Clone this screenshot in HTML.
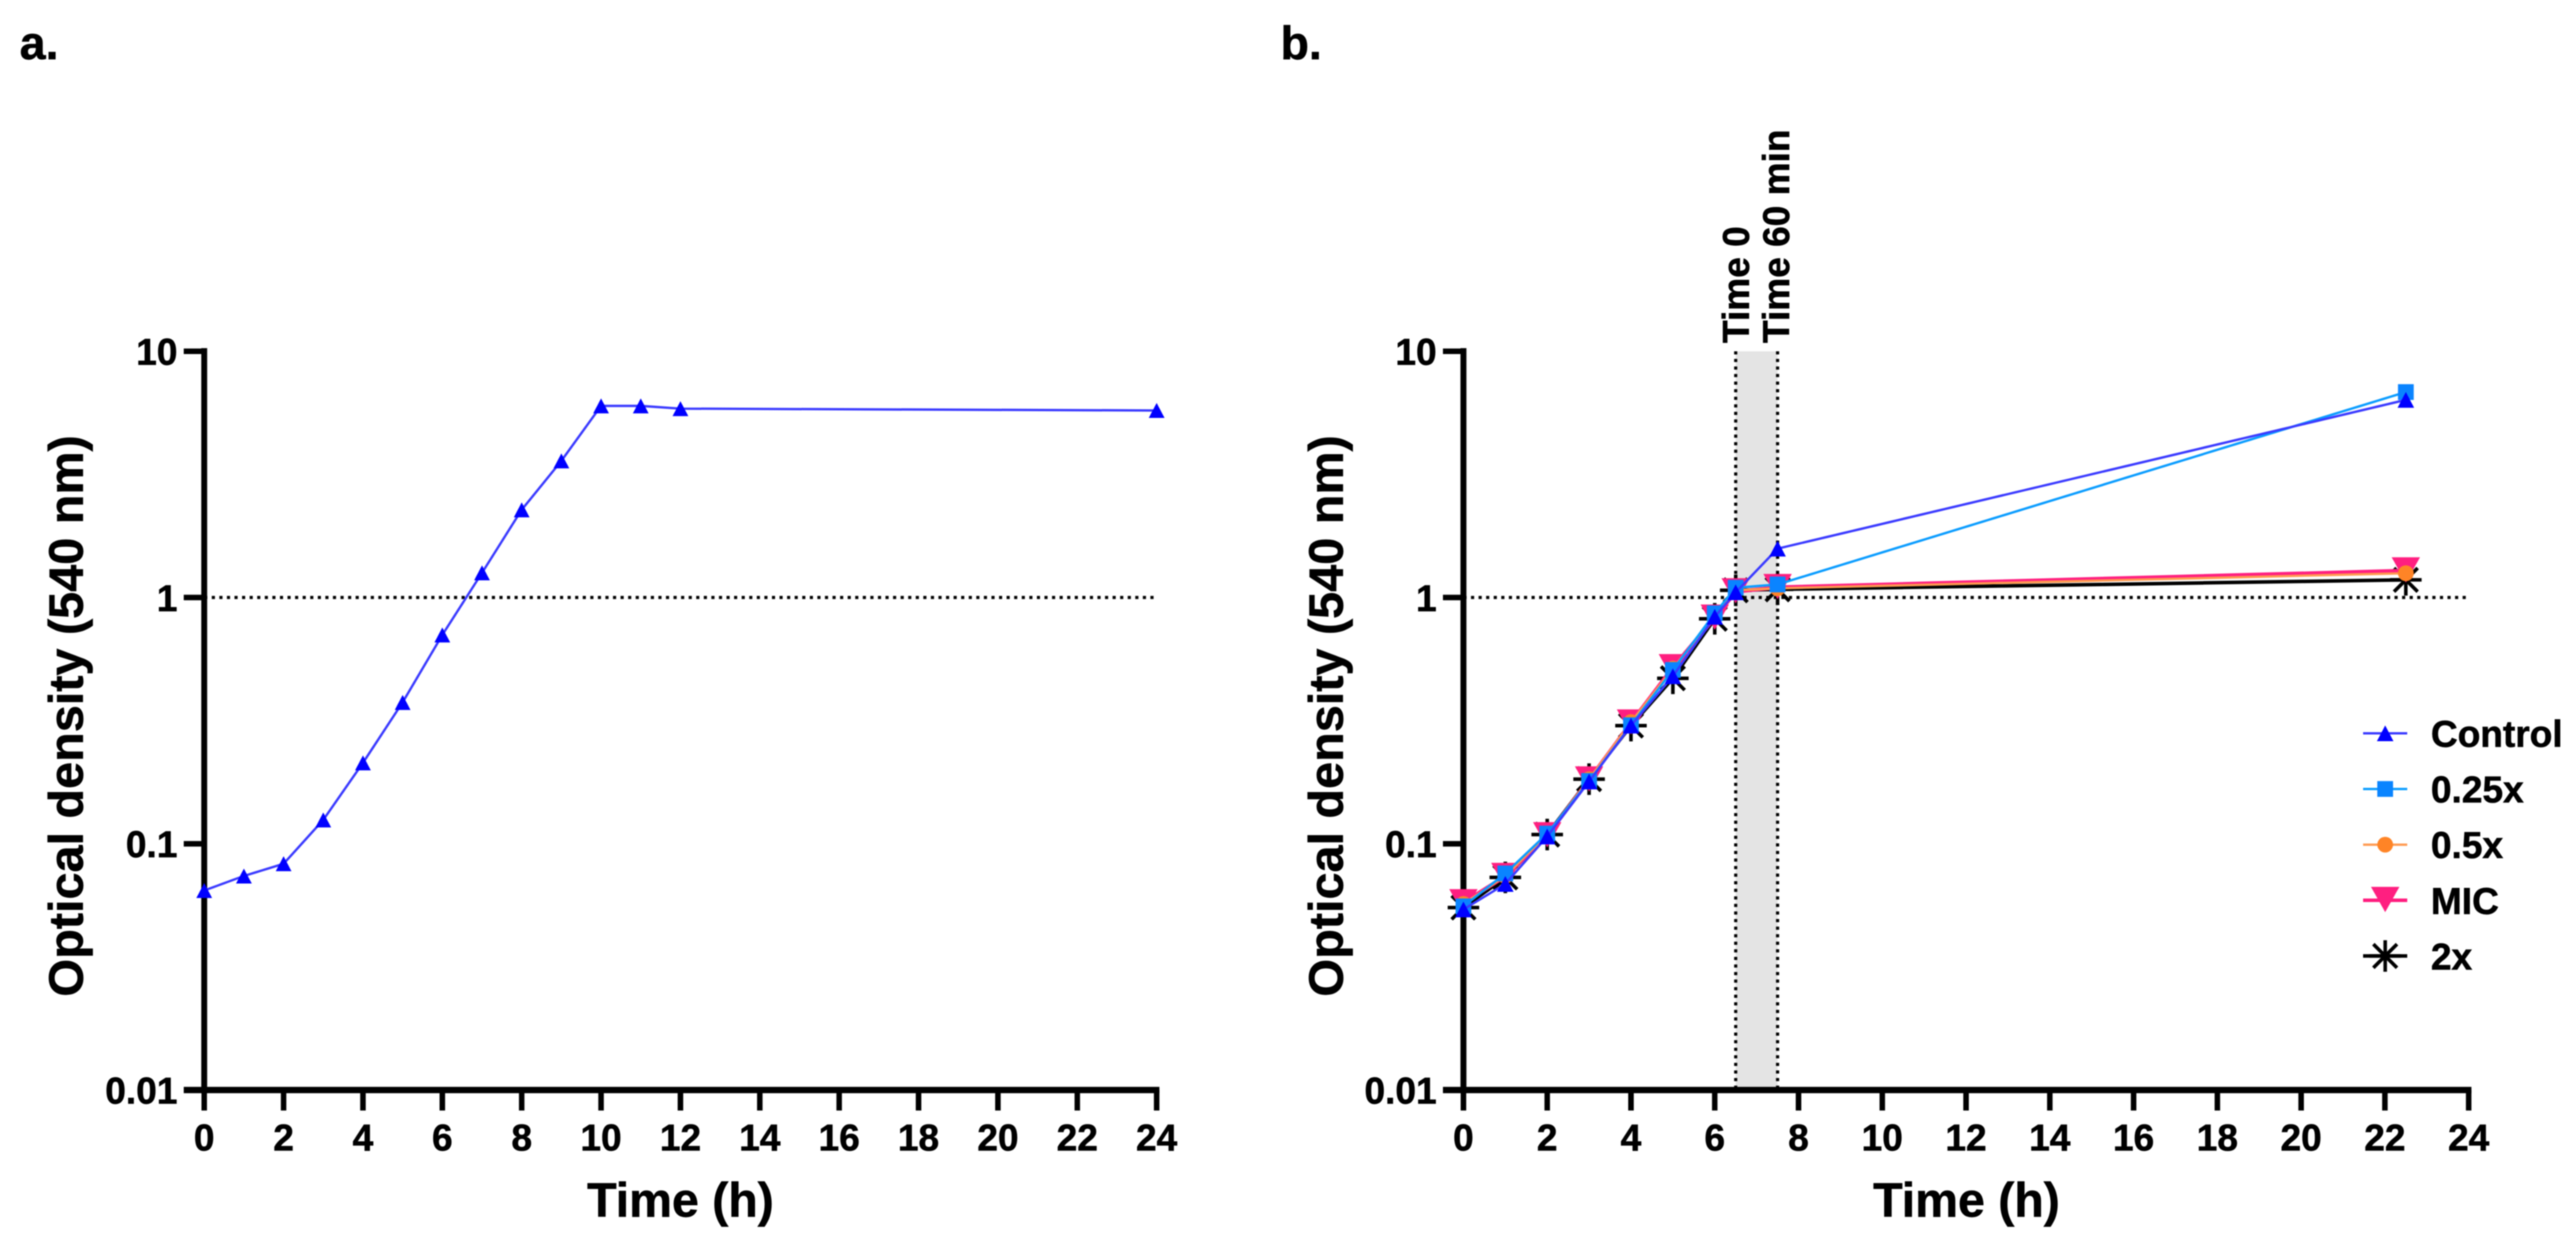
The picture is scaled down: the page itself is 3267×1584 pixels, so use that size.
<!DOCTYPE html>
<html lang="en">
<head>
<meta charset="utf-8">
<title>Optical density growth curves</title>
<style>
html,body{margin:0;padding:0;background:#fff;width:3267px;height:1584px;overflow:hidden}
svg{display:block;filter:blur(.7px)}
text{font-family:"Liberation Sans",Arial,sans-serif;font-weight:700;fill:#000;stroke:#000;stroke-width:.7px}
</style>
</head>
<body>
<svg id="fig" xmlns="http://www.w3.org/2000/svg" width="3267" height="1584" viewBox="0 0 3267 1584">
  <rect x="0" y="0" width="3267" height="1584" fill="#fff"/>
  <text x="25" y="75" font-size="59">a.</text>
  <text x="1624" y="75" font-size="59">b.</text>
  <text transform="translate(105,908) rotate(-90)" text-anchor="middle" font-size="61.6">Optical density (540 nm)</text>
  <text transform="translate(1703,908) rotate(-90)" text-anchor="middle" font-size="61.6">Optical density (540 nm)</text>
  <text x="863" y="1543" text-anchor="middle" font-size="61.2">Time (h)</text>
  <text x="2494" y="1543" text-anchor="middle" font-size="61.2">Time (h)</text>
  <text transform="translate(2218,435) rotate(-90)" font-size="47">Time 0</text>
  <text transform="translate(2269,435) rotate(-90)" font-size="47">Time 60 min</text>
  <g id="panel-a"></g>
  <g id="panel-b"></g>
  <g id="legend"></g>
</svg>
<script>
// ---- chart data ----
const xTickValues = [0,2,4,6,8,10,12,14,16,18,20,22,24];
const yTickValues = [10,1,0.1,0.01];
const yTickLabels = ['10','1','0.1','0.01'];
const referenceOD = 1;
const windowStart = 6.5;
const windowEnd = 7.5;

const timeA = [0,1,2,3,4,5,6,7,8,9,10,11,12,24];
const odA = [0.0646,0.074,0.083,0.125,0.213,0.375,0.705,1.26,2.27,3.59,6.0,6.0,5.85,5.75];

const timeB = [0,1,2,3,4,5,6,6.5,7.5,22.5];
const odControl = [0.0541,0.0687,0.107,0.179,0.302,0.479,0.835,1.05,1.58,6.35];
const od025x = [0.0557,0.0758,0.11,0.18,0.303,0.508,0.863,1.096,1.13,6.83];
const od05x = [0.057,0.074,0.109,0.183,0.312,0.515,0.84,1.07,1.09,1.255];
const odMIC = [0.0577,0.0738,0.108,0.182,0.31,0.52,0.827,1.057,1.1,1.285];
const od2x = [0.0551,0.073,0.109,0.183,0.302,0.47,0.82,1.07,1.08,1.18];

const legendNames = ['Control','0.25x','0.5x','MIC','2x'];

// ---- helpers ----
const NS = 'http://www.w3.org/2000/svg';
function make(tag, attrs, parent){
  const el = document.createElementNS(NS, tag);
  for (const k in attrs) el.setAttribute(k, attrs[k]);
  parent.appendChild(el);
  return el;
}
function axisX(x0, pxPerHour){ return t => x0 + t * pxPerHour; }
const yTop = 445.5, decadePx = 312.3;
function axisY(v){ return yTop + (1 - Math.log10(v)) * decadePx; }
const yBottom = axisY(0.01);

function triUp(cx, cy, w, h, color, parent){
  const el = make('path', {d:`M${cx} ${cy-h/2}L${cx+w/2} ${cy+h/2}L${cx-w/2} ${cy+h/2}Z`, fill:color}, parent);
  return el;
}
function triDown(cx, cy, color, parent){
  const el = make('path', {d:`M${cx-18} ${cy-17}L${cx+18} ${cy-17}L${cx} ${cy+15}Z`, fill:color}, parent);
  return el;
}
function square(cx, cy, color, parent){
  const el = make('rect', {x:cx-10, y:cy-10, width:20, height:20, fill:color}, parent);
  return el;
}
function circle(cx, cy, color, parent){
  const el = make('circle', {cx:cx, cy:cy, r:10, fill:color}, parent);
  return el;
}
function star(cx, cy, color, parent){
  const r = 20, d = 15;
  const el = make('path', {d:`M${cx-r} ${cy}H${cx+r}M${cx} ${cy-r}V${cy+r}M${cx-d} ${cy-d}L${cx+d} ${cy+d}M${cx-d} ${cy+d}L${cx+d} ${cy-d}`, stroke:color, 'stroke-width':4.5, fill:'none'}, parent);
  return el;
}
const markers = {
  Control:(x,y,p)=>triUp(x,y,21,20,'#0000ff',p),
  '0.25x':(x,y,p)=>square(x,y,'#0a84ff',p),
  '0.5x':(x,y,p)=>circle(x,y,'#ff8426',p),
  MIC:(x,y,p)=>triDown(x,y,'#ff1f80',p),
  '2x':(x,y,p)=>star(x,y,'#000',p)
};

function drawAxes(parent, X, xEnd, dotEnd){
  const x0 = X(0);
  const ref = make('line', {x1:x0, x2:dotEnd, y1:axisY(referenceOD), y2:axisY(referenceOD), stroke:'#000', 'stroke-width':4, 'stroke-dasharray':'4 5.6'}, parent);
  
  
  const yAxis = make('line', {x1:x0, x2:x0, y1:yTop-4, y2:yBottom+4, stroke:'#000', 'stroke-width':7.5}, parent);
  
  
  const xAxis = make('line', {x1:x0-26, x2:xEnd+3.5, y1:yBottom, y2:yBottom, stroke:'#000', 'stroke-width':8}, parent);
  
  
  yTickValues.forEach((v,i)=>{
    const y = axisY(v);
    const tick = make('line', {x1:x0-26, x2:x0, y1:y, y2:y, stroke:'#000', 'stroke-width':7}, parent);
    
    
    const label = make('text', {x:x0-34, y:y+17, 'text-anchor':'end', 'font-size':47}, parent);
    
    
    label.textContent = yTickLabels[i];
  });
  xTickValues.forEach(t=>{
    const x = X(t);
    const tick = make('line', {x1:x, x2:x, y1:yBottom, y2:yBottom+26, stroke:'#000', 'stroke-width':7}, parent);
    
    
    const label = make('text', {x:x, y:1459, 'text-anchor':'middle', 'font-size':47}, parent);
    
    
    label.textContent = String(t);
  });
}

function drawSeries(parent, X, times, values, color, width, marker, seriesName){
  const g = make('g', {}, parent);
  
  
  const pts = times.map((t,i)=>X(t).toFixed(1)+','+axisY(values[i]).toFixed(1)).join(' ');
  const line = make('polyline', {points:pts, fill:'none', stroke:color, 'stroke-width':width, 'stroke-linejoin':'round'}, g);
  
  
  times.forEach((t,i)=>{
    const m = marker(X(t), axisY(values[i]), g);
    
    
  });
}

// ---- panel a ----
const panelA = document.getElementById('panel-a');
const xA = axisX(259, 50.33);
drawAxes(panelA, xA, xA(24), xA(24));
drawSeries(panelA, xA, timeA, odA, '#3a3aff', 3, (x,y,p)=>triUp(x,y,20,19,'#0000ff',p), 'growth-curve');

// ---- panel b ----
const panelB = document.getElementById('panel-b');
const xB = axisX(1856, 53.12);
const band = make('rect', {x:xB(windowStart), y:yTop, width:xB(windowEnd)-xB(windowStart), height:yBottom-yTop, fill:'#e4e4e4'}, panelB);


[windowStart, windowEnd].forEach(t=>{
  const l = make('line', {x1:xB(t), x2:xB(t), y1:yTop, y2:yBottom, stroke:'#000', 'stroke-width':4, 'stroke-dasharray':'4 5.6'}, panelB);
  
  
});
drawAxes(panelB, xB, xB(24), 3129);
drawSeries(panelB, xB, timeB, od2x, '#000', 4.5, markers['2x'], 'series-2x');
drawSeries(panelB, xB, timeB, odMIC, '#ff1f80', 5, markers.MIC, 'series-mic');
drawSeries(panelB, xB, timeB, od05x, '#ff9a50', 3, markers['0.5x'], 'series-0-5x');
drawSeries(panelB, xB, timeB, od025x, '#0a9cff', 3, markers['0.25x'], 'series-0-25x');
drawSeries(panelB, xB, timeB, odControl, '#3a3aff', 3, markers.Control, 'series-control');

// ---- legend ----
const legend = document.getElementById('legend');
const legendColors = ['#3a3aff','#0a9cff','#ff9a50','#ff1f80','#000'];
const legendWidths = [3,3,3,4.5,4.5];
legendNames.forEach((name,i)=>{
  const y = 930 + i * 70.6;
  const g = make('g', {}, legend);
  
  
  const l = make('line', {x1:2997, x2:3053, y1:y, y2:y, stroke:legendColors[i], 'stroke-width':legendWidths[i]}, g);
  
  
  const m = markers[name](3025, y, g);
  
  
  const t = make('text', {x:3083, y:y+17, 'font-size':47}, g);
  
  
  t.textContent = name;
});
</script>
</body>
</html>
